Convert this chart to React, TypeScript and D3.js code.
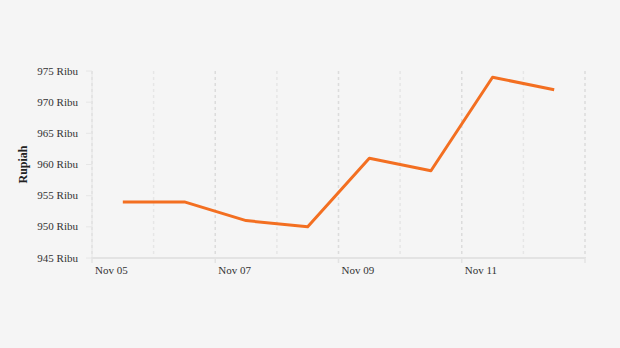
import React from "react";
import * as d3 from "d3";

const dates = ["2023-11-05T12:00", "2023-11-06T12:00", "2023-11-07T12:00", "2023-11-08T12:00", "2023-11-09T12:00", "2023-11-10T12:00", "2023-11-11T12:00", "2023-11-12T12:00"];
const values = [954, 954, 951, 950, 961, 959, 974, 972];
const yTicks = [945, 950, 955, 960, 965, 970, 975];
const xMajor = ["2023-11-05", "2023-11-07", "2023-11-09", "2023-11-11", "2023-11-13"];
const xMinor = ["2023-11-06", "2023-11-08", "2023-11-10", "2023-11-12"];
const xLabels = ["Nov 05", "Nov 07", "Nov 09", "Nov 11", ""];

const W = 620, H = 348;
const M = { left: 92, right: 35, top: 71, bottom: 90 };

export default function App() {
  React.useEffect(() => {
    document.body.style.margin = "0";
  }, []);
  const x = d3.scaleTime()
    .domain([new Date("2023-11-05T00:00"), new Date("2023-11-13T00:00")])
    .range([M.left, W - M.right]);
  const y = d3.scaleLinear().domain([945, 975]).range([H - M.bottom, M.top]);
  const pts = dates.map((d, i) => [x(new Date(d)), y(values[i])] as [number, number]);
  const line = d3.line()(pts) || "";
  const font = "'Liberation Serif', 'Times New Roman', serif";
  const y0 = y(945);
  return (
    <svg width={W} height={H} style={{ display: "block", background: "#f5f5f5" }} fontFamily={font}>
      <rect width={W} height={H} fill="#f5f5f5" />
      {xMinor.map((d) => (
        <line key={d} x1={x(new Date(d + "T00:00"))} x2={x(new Date(d + "T00:00"))} y1={M.top} y2={y0}
          stroke="#e6e6e6" strokeWidth={1.5} strokeDasharray="3,3" />
      ))}
      {xMajor.map((d) => (
        <line key={d} x1={x(new Date(d + "T00:00"))} x2={x(new Date(d + "T00:00"))} y1={M.top} y2={y0}
          stroke="#dcdcdc" strokeWidth={1.5} strokeDasharray="3,3" />
      ))}
      <line x1={M.left} x2={M.left} y1={M.top} y2={y0} stroke="#e6e6e6" strokeWidth={1} />
      {yTicks.map((t) => (
        <g key={t}>
          <line x1={M.left - 6} x2={M.left} y1={y(t)} y2={y(t)} stroke="#e6e6e6" strokeWidth={1} />
          <text x={78} y={y(t)} dy="0.33em" textAnchor="end" fontSize={11} fill="#333">{t} Ribu</text>
        </g>
      ))}
      <line x1={M.left} x2={W - M.right} y1={y0} y2={y0} stroke="#e3e3e3" strokeWidth={2} />
      {xMajor.map((d, i) => (
        <g key={d}>
          <line x1={x(new Date(d + "T00:00"))} x2={x(new Date(d + "T00:00"))} y1={y0} y2={y0 + 5} stroke="#e3e3e3" strokeWidth={1.5} />
          <text x={x(new Date(d + "T00:00")) + 3} y={274} fontSize={11} fill="#333">{xLabels[i]}</text>
        </g>
      ))}
      <path d={line} fill="none" stroke="#f36f21" strokeWidth={3} strokeLinejoin="round" />
      <text transform={`translate(27,${(M.top + y0) / 2}) rotate(-90)`} textAnchor="middle" fontSize={12} fontWeight="bold" fill="#222">Rupiah</text>
    </svg>
  );
}
